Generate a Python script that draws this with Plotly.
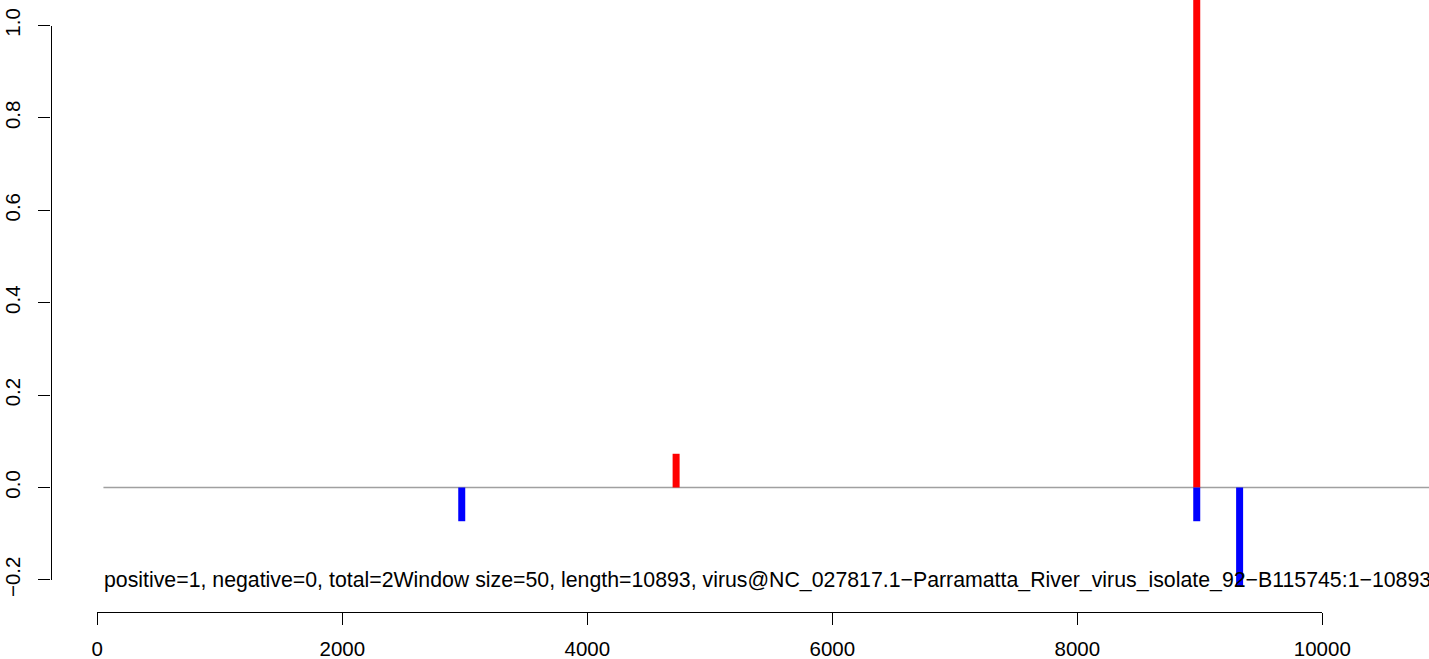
import plotly.graph_objects as go

# ---- data ----
POS_X = [4725, 8975]
POS_Y = [0.073, 1.17]
NEG_X = [2975, 8975, 9325]
NEG_Y = [-0.073, -0.073, -0.214]
WINDOW = 50
LENGTH = 10893
X_TICKS = [0, 2000, 4000, 6000, 8000, 10000]
X_TICK_TEXT = ["0", "2000", "4000", "6000", "8000", "10000"]
Y_TICKS = [-0.2, 0.0, 0.2, 0.4, 0.6, 0.8, 1.0]
Y_TICK_TEXT = ["\u22120.2", "0.0", "0.2", "0.4", "0.6", "0.8", "1.0"]
LABEL = ("positive=1, negative=0, total=2Window size=50, length=10893, "
         "virus@NC_027817.1\u2212Parramatta_River_virus_isolate_92\u2212B115745:1\u221210893")

# ---- geometry (pixels) ----
W, H = 1429, 659
X0PX, X10KPX = 97.3, 1322.3       # pixel of x=0 and x=10000
Y0PX, PXPERUNIT = 487.5, 462.0    # pixel of y=0, pixels per y unit
XSCALE = (X10KPX - X0PX) / 10000.0

x_range = [(0 - X0PX) / XSCALE, (W - X0PX) / XSCALE]
y_range = [(Y0PX - H) / PXPERUNIT, Y0PX / PXPERUNIT]

FONT = "Liberation Sans, Arial, sans-serif"
BAR_W = 7 / XSCALE

fig = go.Figure()
fig.add_trace(go.Bar(x=POS_X, y=POS_Y, width=BAR_W, marker=dict(color="#ff0000", line=dict(width=0)),
                     showlegend=False, hoverinfo="x+y"))
fig.add_trace(go.Bar(x=NEG_X, y=NEG_Y, width=BAR_W, marker=dict(color="#0000ff", line=dict(width=0)),
                     showlegend=False, hoverinfo="x+y"))
# helper trace so the R-style axes get drawn
fig.add_trace(go.Scatter(x=[X_TICKS[0]], y=[Y_TICKS[0]], xaxis="x2", yaxis="y2", mode="markers",
                         marker=dict(opacity=0), showlegend=False, hoverinfo="skip"))

# baseline
fig.add_shape(type="line", xref="x", yref="y", x0=WINDOW, x1=LENGTH, y0=0, y1=0,
              line=dict(color="#a0a0a0", width=1.5), layer="below")

fig.add_annotation(x=X_TICKS[0], y=Y_TICKS[0], xref="x", yref="y", text=LABEL, showarrow=False,
                   xanchor="left", yanchor="middle", xshift=5,
                   font=dict(family=FONT, size=21.3, color="black"))

ax_common = dict(showgrid=False, zeroline=False, showline=True, linecolor="black", linewidth=1.3,
                 ticks="outside", ticklen=12, tickwidth=1.3, tickcolor="black", automargin=False,
                 tickfont=dict(family=FONT, size=20.5, color="black"))

fig.update_layout(
    template="none",
    width=W, height=H,
    margin=dict(l=0, r=0, t=0, b=0, pad=0, autoexpand=False),
    paper_bgcolor="white", plot_bgcolor="rgba(0,0,0,0)",
    barmode="overlay",
    xaxis=dict(domain=[0, 1], range=x_range, visible=False, fixedrange=True, automargin=False),
    yaxis=dict(domain=[0, 1], range=y_range, visible=False, fixedrange=True, automargin=False),
    xaxis2=dict(domain=[X0PX / W, X10KPX / W], range=[X_TICKS[0], X_TICKS[-1]], anchor="free",
                position=(H - 612) / H, tickmode="array", tickvals=X_TICKS, ticktext=X_TICK_TEXT,
                ticklabelstandoff=6, **ax_common),
    yaxis2=dict(domain=[(H - (Y0PX - Y_TICKS[0] * PXPERUNIT)) / H, (H - (Y0PX - Y_TICKS[-1] * PXPERUNIT)) / H],
                range=[Y_TICKS[0], Y_TICKS[-1]], anchor="free", position=50.5 / W,
                tickmode="array", tickvals=Y_TICKS, ticktext=Y_TICK_TEXT, tickangle=-90,
                ticklabelstandoff=10, **ax_common),
)

fig.write_html("out.html", config={"displayModeBar": False},
               post_script="document.body.style.margin='0px';document.body.style.overflow='hidden';")
